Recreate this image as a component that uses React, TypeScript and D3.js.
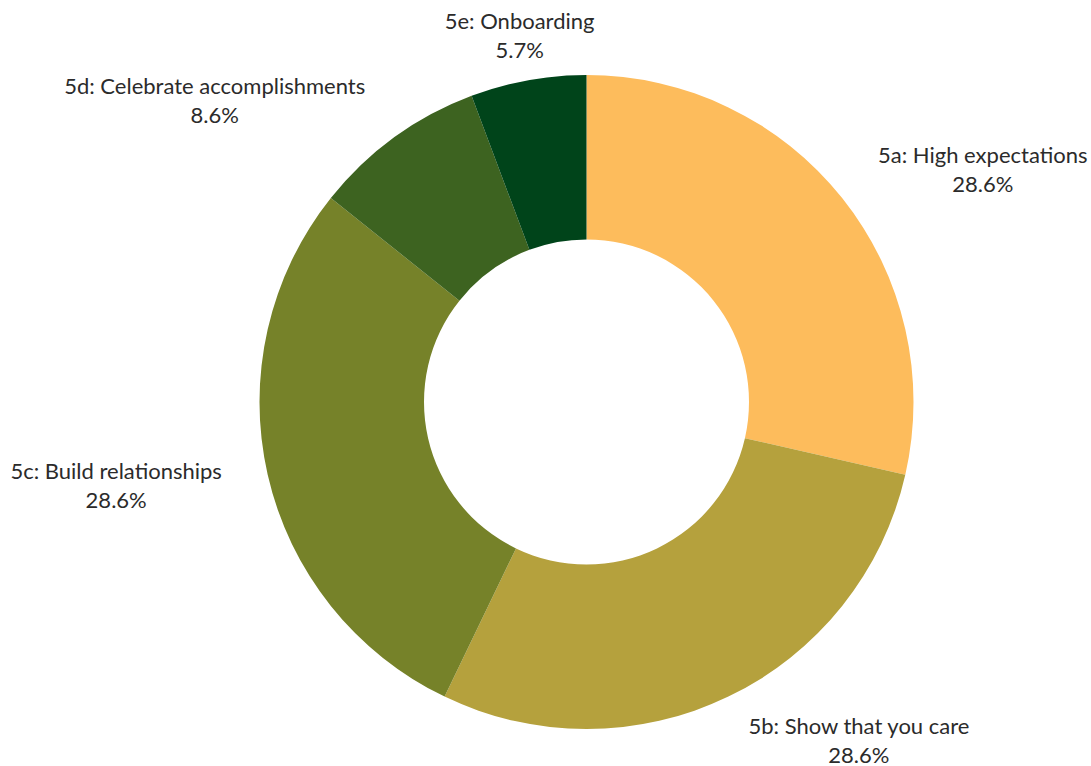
import React from "react";
import * as d3 from "d3";

const categories = [
  "5a: High expectations",
  "5b: Show that you care",
  "5c: Build relationships",
  "5d: Celebrate accomplishments",
  "5e: Onboarding",
];
const counts = [10, 10, 10, 3, 2];
const colors = ["#FDBC5C", "#B5A13D", "#768229", "#3D6320", "#00441A"];

// layout
const W = 1091;
const H = 766;
const CX = 586.5;
const CY = 402;
const R_OUT = 327;
const R_IN = 162.5;
const LABEL_R = 425;
const labelNudge: [number, number][] = [
  [64, 26],
  [88, -51],
  [-56, -18],
  [-122, 36],
  [9, 45],
];

export default function App() {
  const total = d3.sum(counts);
  const pie = d3.pie<number>().sort(null).value((d) => d);
  const arcs = pie(counts);
  const arc = d3.arc<d3.PieArcDatum<number>>().innerRadius(R_IN).outerRadius(R_OUT);
  const labelArc = d3.arc<d3.PieArcDatum<number>>().innerRadius(LABEL_R).outerRadius(LABEL_R);
  const fmt = d3.format(".1%");

  return (
    <svg
      width={W}
      height={H}
      style={{ position: "absolute", left: 0, top: 0, background: "#fff" }}
      fontFamily="Lato, 'Open Sans', sans-serif"
    >
      <g transform={`translate(${CX},${CY})`}>
        {arcs.map((a, i) => (
          <path key={i} d={arc(a) || ""} fill={colors[i]} />
        ))}
        {arcs.map((a, i) => {
          const [x, y] = labelArc.centroid(a);
          const lx = x + labelNudge[i][0];
          const ly = y + labelNudge[i][1];
          return (
            <text key={"t" + i} x={lx} y={ly} textAnchor="middle" fontSize={22} fill="#2b2b2b">
              <tspan x={lx} y={ly}>{categories[i]}</tspan>
              <tspan x={lx} y={ly + 29}>{fmt(counts[i] / total)}</tspan>
            </text>
          );
        })}
      </g>
    </svg>
  );
}
